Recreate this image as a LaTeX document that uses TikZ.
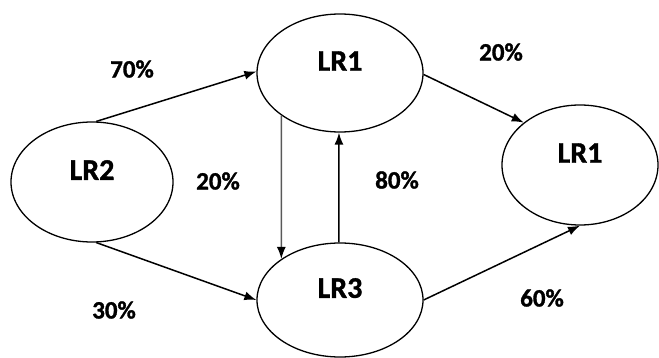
\documentclass[tikz,border=0pt]{standalone}
\usepackage{fontspec}
\setmainfont{Carlito}[BoldFeatures={FakeBold=1.2}]
\usetikzlibrary{shapes.geometric,arrows.meta}
\begin{document}
\begin{tikzpicture}[x=1pt,y=-1pt,
  state/.style={ellipse,draw=black,line width=1.3pt,inner sep=0pt,
    font=\fontsize{30}{30}\selectfont\bfseries},
  pct/.style={font=\fontsize{25}{25}\selectfont\bfseries,inner sep=0pt},
  flow/.style={line width=1.5pt,-{Latex[length=12pt,width=9pt]}}]
\useasboundingbox (0,0) rectangle (659,358);
% states (labels sit a little above each ellipse's centre)
\node[state,minimum width=162pt,minimum height=120pt] (lr2) at (92,182) {\raisebox{24pt}{LR2}};
\node[state,minimum width=166pt,minimum height=118pt] (lr1a) at (340,73) {\raisebox{24pt}{LR1}};
\node[state,minimum width=156pt,minimum height=120pt] (lr1b) at (580,165) {\raisebox{24pt}{LR1}};
\node[state,minimum width=166pt,minimum height=114pt] (lr3) at (340,300) {\raisebox{24pt}{LR3}};
% transitions
\draw[flow] (lr2.86) -- (lr1a.179);
\draw[flow] (lr2.-86) -- (lr3.west);
\draw[flow] (lr1a.-1) -- (lr1b.143);
\draw[flow] (lr3.east) -- (lr1b.south);
\draw[flow,draw=black!65,-{Latex[length=12pt,width=9pt,color=black]}] (lr1a.-144.9) -- (lr3.145.9);
\draw[flow] (lr3.91) -- (lr1a.-91);
% shares
\node[pct] (p70) at (132,69) {70\%};
\node[pct] (p20a) at (218,181) {20\%};
\node[pct] (p30) at (114,310) {30\%};
\node[pct] (p80) at (397,180) {80\%};
\node[pct] (p20b) at (501,52) {20\%};
\node[pct] (p60) at (542,298) {60\%};
\end{tikzpicture}
\end{document}
